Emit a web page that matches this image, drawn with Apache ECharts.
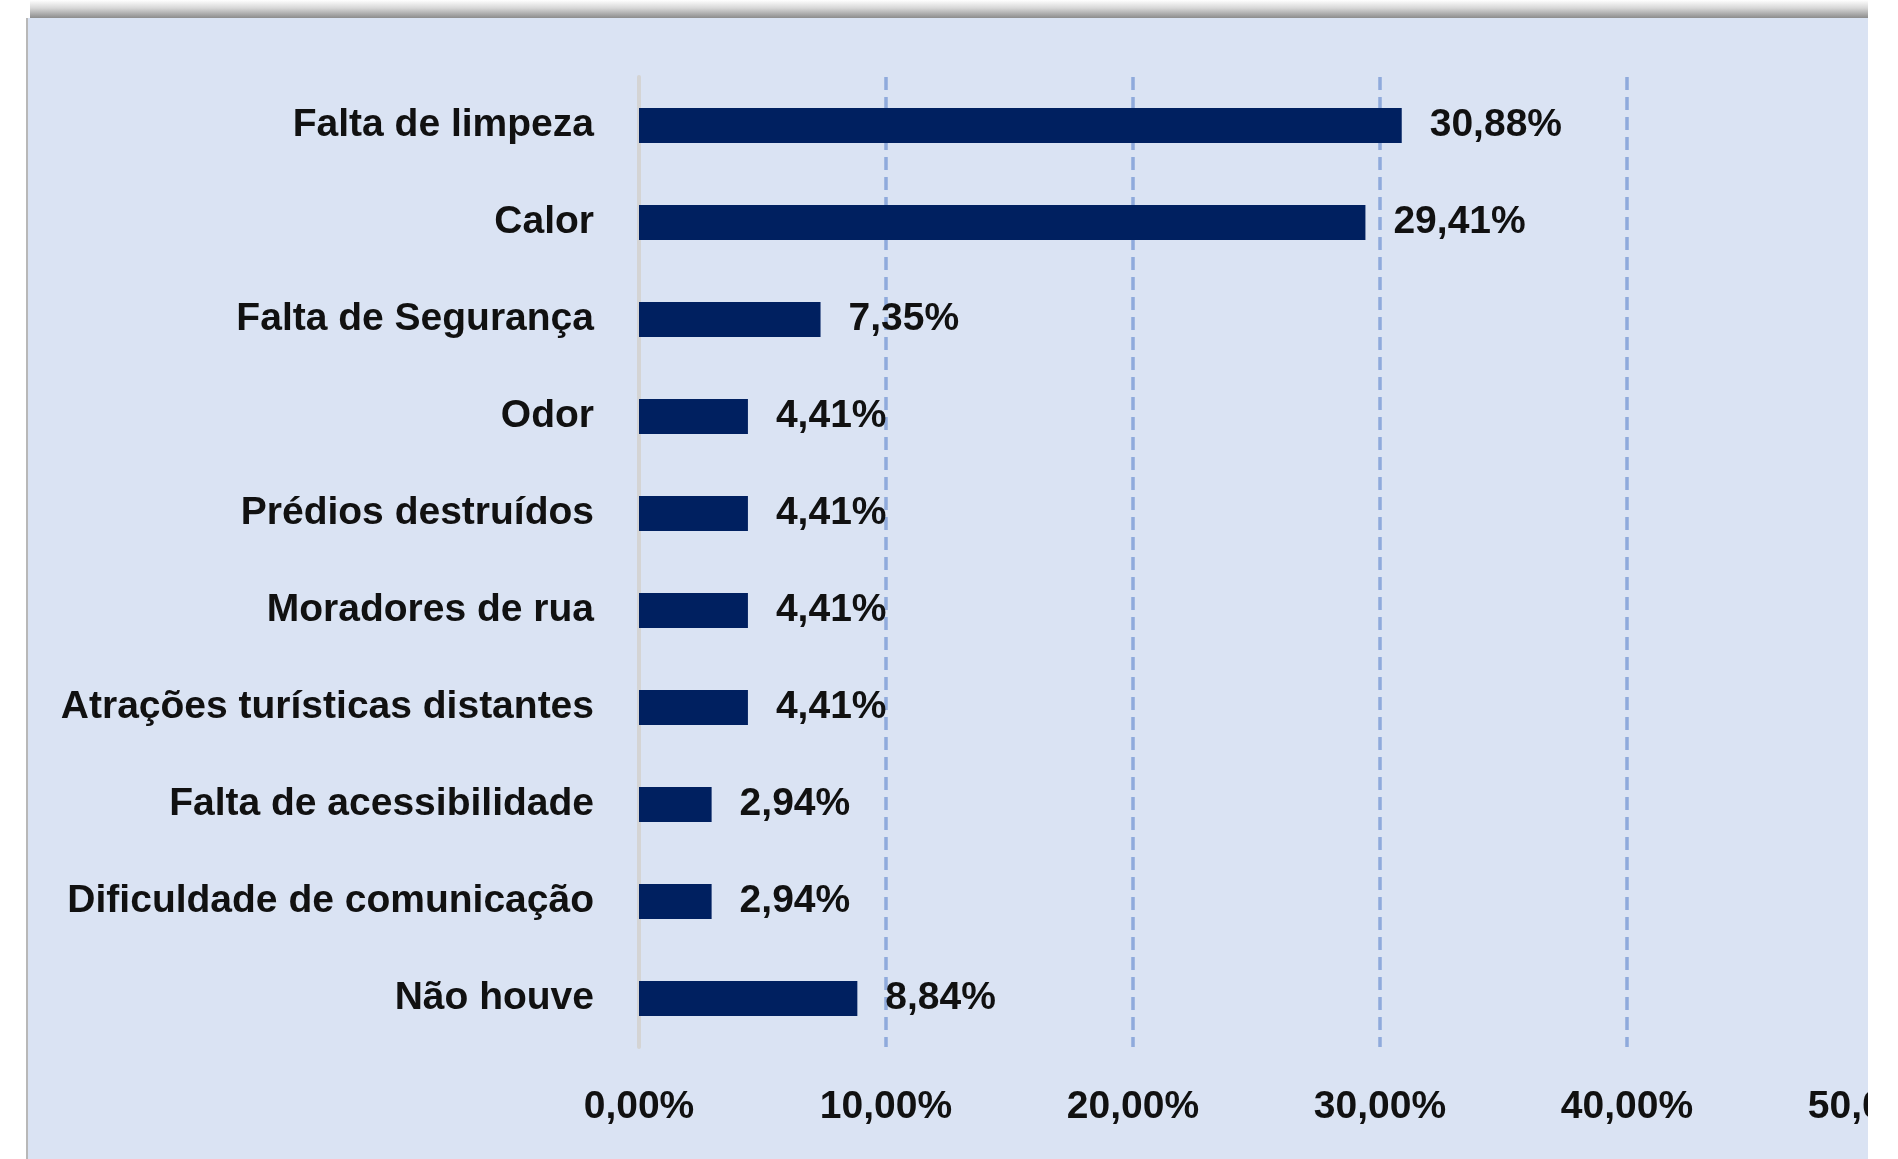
<!DOCTYPE html>
<html>
<head>
<meta charset="utf-8">
<script src="https://cdn.jsdelivr.net/npm/echarts@6/dist/echarts.min.js"></script>
<style>
  html, body { margin: 0; padding: 0; background: #ffffff; }
  #chart { width: 1898px; height: 1159px; }
</style>
</head>
<body>
<div id="chart"></div>
<script>
var categories = [
  'Falta de limpeza',
  'Calor',
  'Falta de Segurança',
  'Odor',
  'Prédios destruídos',
  'Moradores de rua',
  'Atrações turísticas distantes',
  'Falta de acessibilidade',
  'Dificuldade de comunicação',
  'Não houve'
];
var percentValues = [30.88, 29.41, 7.35, 4.41, 4.41, 4.41, 4.41, 2.94, 2.94, 8.84];
var tickValues = [0, 10, 20, 30, 40, 50];

var FONT = "'Liberation Sans', Arial, sans-serif";

var fmtPct = function (v) {
  return Number(v).toFixed(2).replace('.', ',') + '%';
};

var chart = echarts.init(document.getElementById('chart'));

chart.setOption({
  backgroundColor: '#DAE3F3',
  animation: false,
  grid: {
    left: 639,
    right: 24,
    top: 77,
    bottom: 112,
    containLabel: false,
    outerBoundsMode: 'none'
  },
  xAxis: {
    type: 'value',
    min: tickValues[0],
    max: tickValues[tickValues.length - 1],
    interval: 10,
    axisLine: { show: false },
    axisTick: { show: false },
    axisLabel: {
      margin: 41,
      color: '#111111',
      fontFamily: FONT,
      fontWeight: 'bold',
      fontSize: 39,
      formatter: fmtPct
    },
    splitLine: {
      show: true,
      lineStyle: { color: '#8FAADC', width: 3.5, type: [13, 7] }
    }
  },
  yAxis: {
    type: 'category',
    data: categories,
    inverse: true,
    axisLine: { show: true, lineStyle: { color: '#D4D4D4', width: 4 } },
    axisTick: { show: false },
    axisLabel: {
      margin: 45,
      color: '#111111',
      fontFamily: FONT,
      fontWeight: 'bold',
      fontSize: 39,
      padding: [5, 0, 0, 0]
    },
    splitLine: { show: false }
  },
  series: [{
    type: 'bar',
    data: percentValues,
    barWidth: 35,
    itemStyle: { color: '#002060' },
    label: {
      show: true,
      position: 'right',
      distance: 28,
      color: '#111111',
      fontFamily: FONT,
      fontWeight: 'bold',
      fontSize: 39,
      padding: [5, 0, 0, 0],
      formatter: function (p) { return fmtPct(p.value); }
    },
    z: 3
  }],
  graphic: [
    {
      type: 'rect',
      z: 100,
      shape: { x: 1868, y: 0, width: 30, height: 1159 },
      style: { fill: '#ffffff' }
    },
    {
      type: 'rect',
      z: 100,
      shape: { x: 0, y: 0, width: 27, height: 1159 },
      style: { fill: '#ffffff' }
    },
    {
      type: 'rect',
      z: 100,
      shape: { x: 0, y: 0, width: 1868, height: 18 },
      style: { fill: '#ffffff' }
    },
    {
      type: 'rect',
      z: 101,
      shape: { x: 30, y: 0, width: 1838, height: 18 },
      style: {
        fill: new echarts.graphic.LinearGradient(0, 0, 0, 1, [
          { offset: 0, color: 'rgba(255,255,255,1)' },
          { offset: 0.45, color: 'rgba(215,215,215,1)' },
          { offset: 1, color: 'rgba(140,140,140,1)' }
        ])
      }
    },
    {
      type: 'line',
      z: 101,
      shape: { x1: 27, y1: 18, x2: 27, y2: 1159 },
      style: { stroke: '#B8B8B8', lineWidth: 2 }
    }
  ]
});
</script>
</body>
</html>
